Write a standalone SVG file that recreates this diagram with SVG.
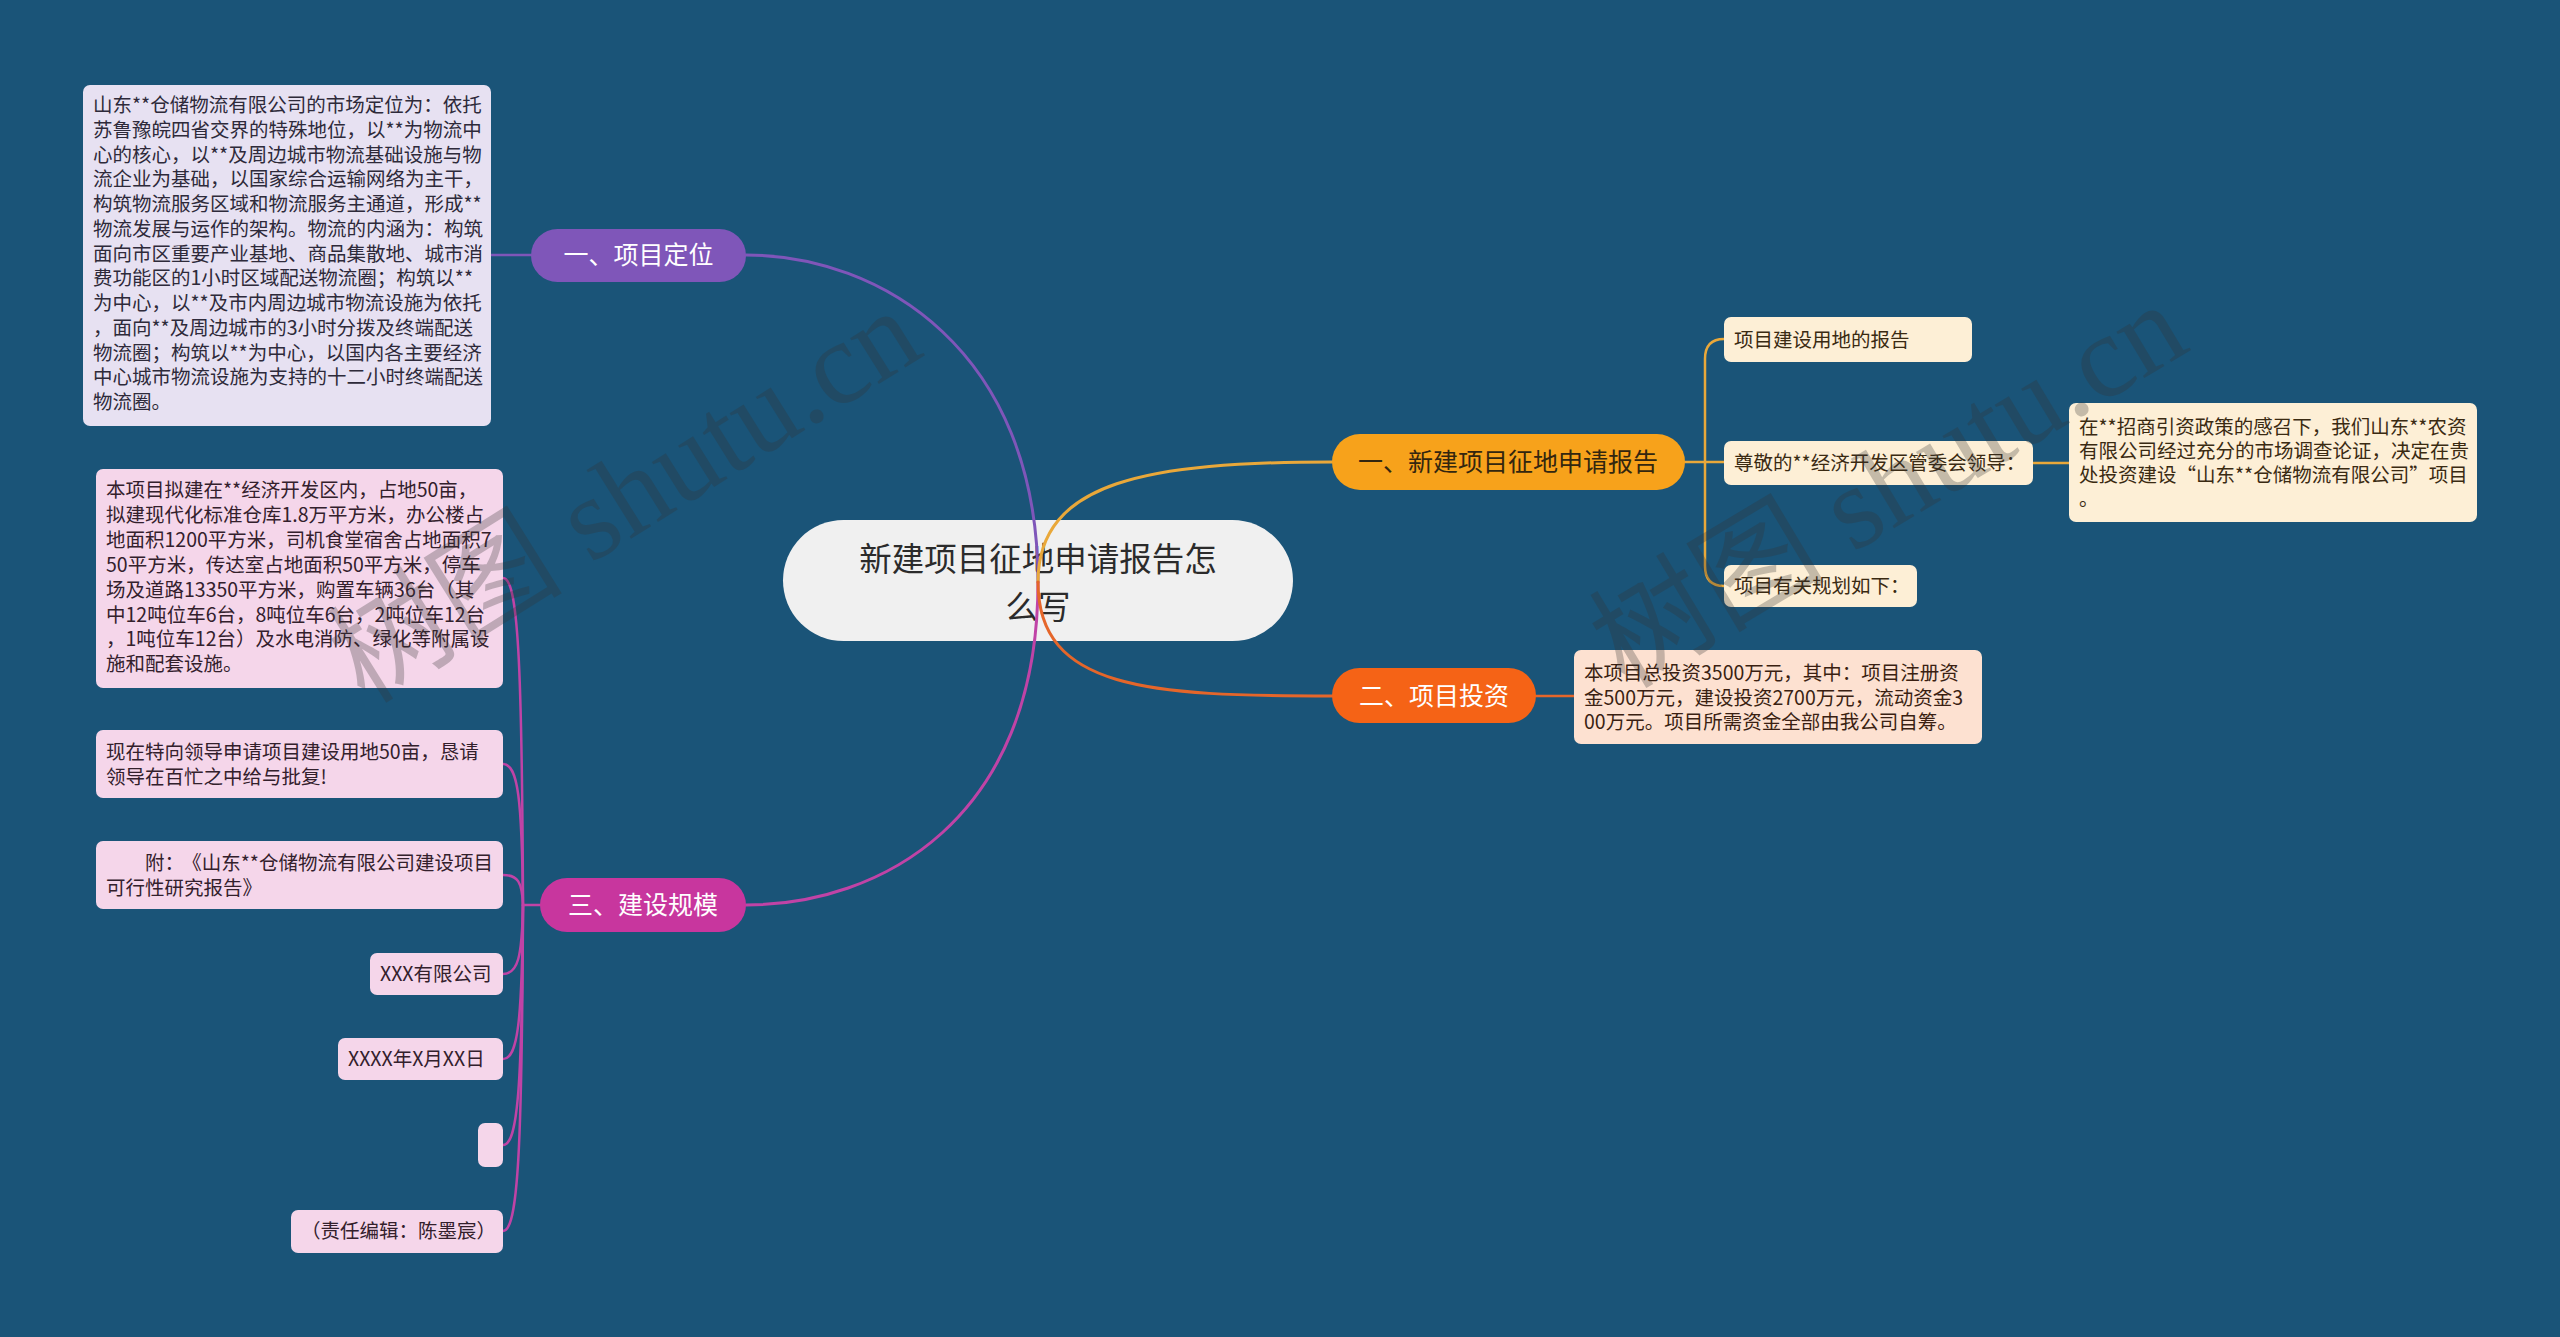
<svg xmlns="http://www.w3.org/2000/svg" width="2560" height="1337" viewBox="0 0 2560 1337">
<style>
.t{font-family:"Noto Sans CJK SC","Noto Sans",sans-serif}
.leaf{font-size:19.5px}
.pill{font-size:25px;text-anchor:middle}
.c{fill:none;stroke-width:3;stroke-linecap:round}
.cs{fill:none;stroke-width:2.5;stroke-linecap:round}
.wm{font-family:"Liberation Serif","Noto Sans CJK SC",serif;font-size:118px;fill:#333;opacity:0.28}
</style>
<rect x="0" y="0" width="2560" height="1337" fill="#1a5478"/>

<g id="node-root">
<rect x="783" y="520" width="510" height="121" rx="60.5" fill="#f0f0f0"/>
<text class="t" x="1038" y="571" font-size="32.5" fill="#2b2b2b" text-anchor="middle">新建项目征地申请报告怎</text>
<text class="t" x="1038" y="619" font-size="32.5" fill="#2b2b2b" text-anchor="middle">么写</text>
</g>

<g id="connectors">
<path class="c" stroke="#7f56b9" d="M 746 255 C 880 255 1038 350 1038 582"/>
<path class="c" stroke="#c043a6" d="M 746 905 C 880 905 1038 820 1038 582"/>
<path class="c" stroke="#e9a83a" d="M 1038 582 C 1038 480 1150 462 1332 462"/>
<path class="c" stroke="#e5662a" d="M 1038 582 C 1038 690 1150 696 1332 696"/>
<path class="cs" stroke="#7f56b9" d="M 531 255 H 490"/>
<path class="cs" stroke="#c043a6" d="M 540 905 H 523"/>
<path class="cs" stroke="#c043a6" d="M 523 905 C 522 660 518 578 503 578"/>
<path class="cs" stroke="#c043a6" d="M 523 905 C 522 799 518 764 503 764"/>
<path class="cs" stroke="#c043a6" d="M 523 905 C 522 882 518 875 503 875"/>
<path class="cs" stroke="#c043a6" d="M 523 905 C 522 957 518 974 503 974"/>
<path class="cs" stroke="#c043a6" d="M 523 905 C 522 1020 518 1059 503 1059"/>
<path class="cs" stroke="#c043a6" d="M 523 905 C 522 1085 518 1145 503 1145"/>
<path class="cs" stroke="#c043a6" d="M 523 905 C 522 1150 518 1231 503 1231"/>
<path class="cs" stroke="#e9a83a" d="M 1685 462 H 1724"/>
<path class="cs" stroke="#e9a83a" d="M 1705 462 V 359 Q 1705 339 1724 339"/>
<path class="cs" stroke="#e9a83a" d="M 1705 462 V 566 Q 1705 586 1724 586"/>
<path class="cs" stroke="#e9a83a" d="M 2033 463 H 2069"/>
<path class="cs" stroke="#e5662a" d="M 1536 696 H 1574"/>
</g>

<g id="node-b1">
<rect x="531" y="229" width="215" height="53" rx="26.5" fill="#7f56b9"/>
<text class="t pill" x="638.5" y="264" fill="#ffffff">一、项目定位</text>
</g>
<g id="node-b1-leaf">
<rect x="83" y="85" width="408" height="341" rx="7" fill="#e7e1f2"/>
<text class="t leaf" fill="#2e2a3a">
<tspan x="93" y="112">山东**仓储物流有限公司的市场定位为：依托</tspan>
<tspan x="93" y="136.75">苏鲁豫皖四省交界的特殊地位，以**为物流中</tspan>
<tspan x="93" y="161.5">心的核心，以**及周边城市物流基础设施与物</tspan>
<tspan x="93" y="186.25">流企业为基础，以国家综合运输网络为主干，</tspan>
<tspan x="93" y="211">构筑物流服务区域和物流服务主通道，形成**</tspan>
<tspan x="93" y="235.75">物流发展与运作的架构。物流的内涵为：构筑</tspan>
<tspan x="93" y="260.5">面向市区重要产业基地、商品集散地、城市消</tspan>
<tspan x="93" y="285.25">费功能区的1小时区域配送物流圈；构筑以**</tspan>
<tspan x="93" y="310">为中心，以**及市内周边城市物流设施为依托</tspan>
<tspan x="93" y="334.75">，面向**及周边城市的3小时分拨及终端配送</tspan>
<tspan x="93" y="359.5">物流圈；构筑以**为中心，以国内各主要经济</tspan>
<tspan x="93" y="384.25">中心城市物流设施为支持的十二小时终端配送</tspan>
<tspan x="93" y="409">物流圈。</tspan>
</text>
</g>

<g id="node-b3">
<rect x="540" y="878" width="206" height="54" rx="27" fill="#c8369e"/>
<text class="t pill" x="643" y="914" fill="#ffffff">三、建设规模</text>
</g>
<g id="node-b3-leaf1">
<rect x="96" y="469" width="407" height="219" rx="7" fill="#f5d6ea"/>
<text class="t leaf" fill="#33202c">
<tspan x="106" y="497">本项目拟建在**经济开发区内，占地50亩，</tspan>
<tspan x="106" y="521.9">拟建现代化标准仓库1.8万平方米，办公楼占</tspan>
<tspan x="106" y="546.8">地面积1200平方米，司机食堂宿舍占地面积7</tspan>
<tspan x="106" y="571.7">50平方米，传达室占地面积50平方米，停车</tspan>
<tspan x="106" y="596.6">场及道路13350平方米，购置车辆36台（其</tspan>
<tspan x="106" y="621.5">中12吨位车6台，8吨位车6台，2吨位车12台</tspan>
<tspan x="106" y="646.4">，1吨位车12台）及水电消防、绿化等附属设</tspan>
<tspan x="106" y="671.3">施和配套设施。</tspan>
</text>
</g>
<g id="node-b3-leaf2">
<rect x="96" y="730" width="407" height="68" rx="7" fill="#f5d6ea"/>
<text class="t leaf" fill="#33202c">
<tspan x="106" y="759">现在特向领导申请项目建设用地50亩，恳请</tspan>
<tspan x="106" y="784">领导在百忙之中给与批复!</tspan>
</text>
</g>
<g id="node-b3-leaf3">
<rect x="96" y="841" width="407" height="68" rx="7" fill="#f5d6ea"/>
<text class="t leaf" fill="#33202c">
<tspan x="145" y="870">附：</tspan><tspan dx="8">《山东**仓储物流有限公司建设项目</tspan>
<tspan x="106" y="895">可行性研究报告》</tspan>
</text>
</g>
<g id="node-b3-leaf4">
<rect x="370" y="953" width="133" height="42" rx="7" fill="#f5d6ea"/>
<text class="t leaf" x="380" y="981" fill="#33202c">XXX有限公司</text>
</g>
<g id="node-b3-leaf5">
<rect x="338" y="1038" width="165" height="42" rx="7" fill="#f5d6ea"/>
<text class="t leaf" x="348" y="1066" fill="#33202c">XXXX年X月XX日</text>
</g>
<g id="node-b3-leaf6">
<rect x="478" y="1123" width="25" height="44" rx="7" fill="#f5d6ea"/>
</g>
<g id="node-b3-leaf7">
<rect x="291" y="1210" width="212" height="43" rx="7" fill="#f5d6ea"/>
<text class="t leaf" x="301" y="1238" fill="#33202c">（责任编辑：陈墨宸）</text>
</g>

<g id="node-a1">
<rect x="1332" y="434" width="353" height="56" rx="28" fill="#f7a21b"/>
<text class="t pill" x="1508" y="471" fill="#33260f">一、新建项目征地申请报告</text>
</g>
<g id="node-a1-leaf1">
<rect x="1724" y="317" width="248" height="45" rx="7" fill="#fdefd6"/>
<text class="t leaf" x="1734" y="347" fill="#3a2a12">项目建设用地的报告</text>
</g>
<g id="node-a1-leaf2">
<rect x="1724" y="441" width="309" height="44" rx="7" fill="#fdefd6"/>
<text class="t leaf" x="1734" y="470" fill="#3a2a12">尊敬的**经济开发区管委会领导：</text>
</g>
<g id="node-a1-leaf2-1">
<rect x="2069" y="403" width="408" height="119" rx="7" fill="#fdefd6"/>
<text class="t leaf" fill="#3a2a12">
<tspan x="2079" y="434">在**招商引资政策的感召下，我们山东**农资</tspan>
<tspan x="2079" y="458">有限公司经过充分的市场调查论证，决定在贵</tspan>
<tspan x="2079" y="482">处投资建设“山东**仓储物流有限公司”项目</tspan>
<tspan x="2079" y="506">。</tspan>
</text>
</g>
<g id="node-a1-leaf3">
<rect x="1724" y="565" width="193" height="42" rx="7" fill="#fdefd6"/>
<text class="t leaf" x="1734" y="593" fill="#3a2a12">项目有关规划如下：</text>
</g>

<g id="node-a2">
<rect x="1332" y="668" width="204" height="55" rx="27.5" fill="#f56316"/>
<text class="t pill" x="1434" y="705" fill="#ffffff">二、项目投资</text>
</g>
<g id="node-a2-leaf1">
<rect x="1574" y="650" width="408" height="94" rx="7" fill="#fde1d1"/>
<text class="t leaf" fill="#3a1f12">
<tspan x="1584" y="680">本项目总投资3500万元，其中：项目注册资</tspan>
<tspan x="1584" y="704.5">金500万元，建设投资2700万元，流动资金3</tspan>
<tspan x="1584" y="729">00万元。项目所需资金全部由我公司自筹。</tspan>
</text>
</g>

<g id="watermarks">
<text class="wm" transform="translate(365,705) rotate(-32)">树图 shutu.cn</text>
<text class="wm" transform="translate(1625,690) rotate(-31)">树图 shutu.cn</text>
</g>
</svg>
